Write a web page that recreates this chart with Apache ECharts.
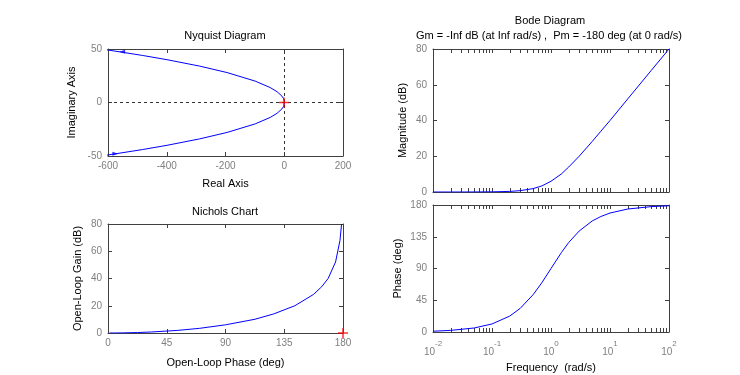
<!DOCTYPE html>
<html>
<head>
<meta charset="utf-8">
<script src="https://cdn.jsdelivr.net/npm/echarts@6/dist/echarts.min.js"></script>
<style>
  html, body { margin: 0; padding: 0; background: #fff; }
  #chart { width: 740px; height: 375px; }
</style>
</head>
<body>
<div id="chart"></div>
<script>
// Nyquist, upper branch (w >= 0); the lower branch is its mirror image
const nyqRe = [1, 0.99, 0.91, 0.75, 0, -1.25, -3, -8, -24, -48, -99, -195, -288, -399, -483, -599, -899];
const nyqIm = [0, 0.2, 0.6, 1, 2, 3, 4, 6, 10, 14, 20, 28, 34, 40, 44, 49, 60];
const nyqArrowUp = [-552, 47.5];
const nyqArrowDown = [-575, -48];
const nyqCritical = [-1, 0];

// Bode samples
const freq = [0.01, 0.02, 0.05, 0.1, 0.2, 0.3, 0.5, 0.7, 1, 1.5, 2, 3, 5, 7, 10, 20, 50, 100];
const magDb = [0.0, 0.0, 0.02, 0.09, 0.34, 0.75, 1.9, 3.4, 6.0, 10.1, 14.0, 20.0, 28.3, 34.0, 40.0, 52.1, 68.0, 80.0];
const phaseDeg = [1.1, 2.3, 5.7, 11.4, 22.6, 33.4, 53.1, 69.9, 90, 112.6, 126.9, 143.1, 157.4, 163.7, 168.6, 174.3, 177.7, 178.9];
const nicCritical = [180, 0];

// axis ticks
const nyqXTicks = [-600, -400, -200, 0, 200];
const nyqYTicks = [-50, 0, 50];
const magTicks = [0, 20, 40, 60, 80];
const nicXTicks = [0, 45, 90, 135, 180];
const nicYTicks = [0, 20, 40, 60, 80];
const phaseTicks = [0, 45, 90, 135, 180];
const decades = [-2, -1, 0, 1, 2];

const FONT = '"Liberation Sans", Arial, sans-serif';
const AXIS = '#404040';
const TICKLBL = '#7f7f7f';
const BLUE = '#0000ff';
const PLUS = 'path://M4.25,0h1.5v4.25h4.25v1.5h-4.25v4.25h-1.5v-4.25h-4.25v-1.5h4.25z';

const grids = [
  { left: 108, top: 49, width: 235, height: 107 },
  { left: 433, top: 49, width: 236, height: 143 },
  { left: 108, top: 224, width: 235, height: 109 },
  { left: 433, top: 205, width: 236, height: 127 }
];

// log-decade tick positions (in log10 space)
const logTicks = [];
for (let k = -2; k < 2; k++) {
  for (let m = 1; m < 10; m++) logTicks.push(Math.log10(m * Math.pow(10, k)));
}
logTicks.push(2);

function axis(grid, pos, ticks, opt) {
  opt = opt || {};
  const a = {
    type: 'value',
    gridIndex: grid,
    position: pos,
    min: ticks[0],
    max: ticks[ticks.length - 1],
    interval: ticks[1] - ticks[0],
    axisLine: { show: true, onZero: false, lineStyle: { color: AXIS, width: 1 } },
    axisTick: { show: true, inside: true, length: 4, lineStyle: { color: AXIS } },
    axisLabel: {
      show: !!opt.labels,
      color: TICKLBL,
      fontSize: 10,
      fontFamily: FONT,
      margin: opt.margin || 5
    },
    splitLine: { show: false }
  };
  if (opt.name) {
    a.name = opt.name;
    a.nameLocation = 'middle';
    a.nameGap = opt.nameGap;
    a.nameTextStyle = { color: '#000', fontSize: 11, fontFamily: FONT };
  }
  if (opt.customTicks) a.axisTick.customValues = opt.customTicks;
  if (opt.formatter) a.axisLabel.formatter = opt.formatter;
  if (opt.rich) a.axisLabel.rich = opt.rich;
  return a;
}

function logAxis(grid) {
  return { type: 'log', logBase: 10, gridIndex: grid, position: 'bottom', min: 0.01, max: 100, show: false };
}

const pow10Label = v => '{b|10}{s|' + v + '}';
const pow10Rich = {
  b: { fontSize: 10, color: TICKLBL, fontFamily: FONT, lineHeight: 17, verticalAlign: 'bottom' },
  s: { fontSize: 8, color: TICKLBL, fontFamily: FONT, lineHeight: 10, verticalAlign: 'top' }
};

const xAxis = [
  axis(0, 'bottom', nyqXTicks, { labels: true, name: 'Real Axis', nameGap: 22 }),
  axis(0, 'top', nyqXTicks),
  logAxis(1),
  axis(1, 'bottom', decades, { customTicks: logTicks }),
  axis(1, 'top', decades, { customTicks: logTicks }),
  axis(2, 'bottom', nicXTicks, { labels: true, name: 'Open-Loop Phase (deg)', nameGap: 24 }),
  axis(2, 'top', nicXTicks),
  logAxis(3),
  axis(3, 'bottom', decades, {
    labels: true, customTicks: logTicks, name: 'Frequency  (rad/s)', nameGap: 30,
    margin: 8, formatter: pow10Label, rich: pow10Rich
  }),
  axis(3, 'top', decades, { customTicks: logTicks })
];

const yAxis = [
  axis(0, 'left', nyqYTicks, { labels: true, name: 'Imaginary Axis', nameGap: 31, margin: 6 }),
  axis(0, 'right', nyqYTicks),
  axis(1, 'left', magTicks, { labels: true, name: 'Magnitude (dB)', nameGap: 25, margin: 6 }),
  axis(1, 'right', magTicks),
  axis(2, 'left', nicYTicks, { labels: true, name: 'Open-Loop Gain (dB)', nameGap: 25, margin: 6 }),
  axis(2, 'right', nicYTicks),
  axis(3, 'left', phaseTicks, { labels: true, name: 'Phase (deg)', nameGap: 30, margin: 6 }),
  axis(3, 'right', phaseTicks)
];

const lineStyle = { color: BLUE, width: 1 };
function curve(xi, yi, data, extra) {
  return Object.assign({
    type: 'line', xAxisIndex: xi, yAxisIndex: yi, data: data,
    showSymbol: false, symbol: 'none', lineStyle: lineStyle, clip: true,
    silent: true, animation: false, z: 3
  }, extra || {});
}
function marker(xi, yi, pt, symbol, size, color, rot) {
  return {
    type: 'scatter', xAxisIndex: xi, yAxisIndex: yi, data: [pt],
    symbol: symbol, symbolSize: size, symbolRotate: rot || 0,
    itemStyle: { color: color }, clip: false, silent: true, animation: false, z: 5
  };
}

const series = [
  curve(0, 0, nyqRe.map((r, i) => [r, nyqIm[i]]), {
    markLine: {
      silent: true, symbol: 'none', label: { show: false }, animation: false,
      lineStyle: { color: '#333', type: [3, 3], width: 1 },
      data: [{ xAxis: 0 }, { yAxis: 0 }]
    }
  }),
  curve(0, 0, nyqRe.map((r, i) => [r, -nyqIm[i]])),
  marker(0, 0, nyqArrowUp, 'triangle', [4, 6], BLUE, 90),
  marker(0, 0, nyqArrowDown, 'triangle', [4, 6], BLUE, -90),
  marker(0, 0, nyqCritical, PLUS, 10, '#ff0000'),
  curve(2, 2, freq.map((f, i) => [f, magDb[i]])),
  curve(5, 4, phaseDeg.map((p, i) => [p, magDb[i]])),
  marker(5, 4, nicCritical, PLUS, 10, '#ff0000'),
  curve(7, 6, freq.map((f, i) => [f, phaseDeg[i]]))
];

const titleFont = '11px ' + FONT;
function label(text, x, y) {
  return { type: 'text', x: x, y: y, style: { text: text, font: titleFont, fill: '#000', align: 'center', verticalAlign: 'middle' } };
}

const chart = echarts.init(document.getElementById('chart'));
chart.setOption({
  animation: false,
  backgroundColor: '#fff',
  grid: grids,
  xAxis: xAxis,
  yAxis: yAxis,
  series: series,
  graphic: [
    label('Nyquist Diagram', 225, 35.5),
    label('Bode Diagram', 550, 21),
    label('Gm = -Inf dB (at Inf rad/s) ,  Pm = -180 deg (at 0 rad/s)', 549, 35.5),
    label('Nichols Chart', 225, 212)
  ]
});
</script>
</body>
</html>
